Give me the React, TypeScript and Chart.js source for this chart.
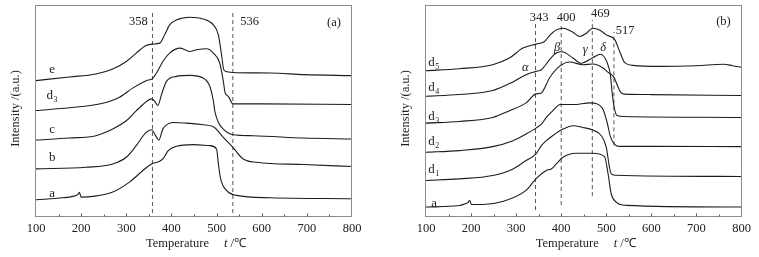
import React, { useEffect, useRef } from "react";
import { Chart, registerables } from "chart.js";
Chart.register(...registerables);

// ---------- Panel (a) data ----------
const aE_T = [100, 174, 233, 270, 300, 322, 344, 358, 374, 385, 396, 411, 441, 470, 493, 504, 511, 516, 526, 544, 619, 693, 800];
const aE_V = [136, 139.7, 142.7, 147.7, 155.3, 163.7, 171.3, 172.7, 173.7, 182, 192, 197, 199.7, 198, 192, 182, 162, 147, 144.7, 144, 143.7, 142, 141];

const aD3_T = [100, 174, 248, 285, 315, 344, 358, 367, 381, 396, 419, 430, 441, 456, 478, 493, 507, 515, 519, 526, 536, 600, 800];
const aD3_V = [106, 108.7, 113.3, 119.3, 128.7, 136, 138, 143.7, 155.3, 163.7, 168.7, 167, 165.3, 167, 168, 163.7, 153.7, 135.3, 123.7, 120.3, 112.7, 112.7, 112];

const aC_T = [100, 174, 233, 270, 300, 322, 337, 356, 363, 370, 378, 389, 411, 441, 470, 485, 493, 496, 504, 515, 536, 581, 693, 800];
const aC_V = [76.3, 78.3, 80.7, 87.3, 95.7, 105.7, 112, 117.7, 115.3, 111, 122, 135.3, 140.3, 141.3, 138.7, 130.3, 115.3, 105.7, 94, 87.3, 81.7, 80.7, 78.3, 77.3];

const aB_T = [100, 211, 270, 300, 322, 344, 356, 363, 372, 381, 404, 433, 470, 493, 515, 536, 559, 589, 693, 800];
const aB_V = [47.3, 49, 52.3, 59, 70.7, 84, 86.7, 82.3, 76.3, 87.3, 94, 93.3, 91.7, 89.7, 79, 69, 57.3, 54, 51.7, 49.7];

const aA_T = [100, 159, 181, 193, 196, 200, 226, 270, 307, 337, 356, 374, 381, 393, 411, 448, 485, 500, 504, 509, 522, 544, 619, 800];
const aA_V = [16.3, 18.3, 19.7, 21.7, 23.7, 19, 19.7, 24, 34, 45.7, 52.3, 55, 57.3, 65.7, 70, 71.7, 70.7, 67.3, 52.3, 37.3, 25.7, 20.7, 18.3, 17.3];

const aDashX = [358, 536];
const aDashLow = [3, 3];
const aDashHigh = [207, 207];

const aPeakText = ["358", "536", "(a)"];
const aPeakX = [327, 573, 760];
const aPeakY = [195, 195, 194];

const aCurveName = ["e", "d", "c", "b", "a"];
const aCurveSub = ["", "3", "", "", ""];
const aCurveLabX = [136, 136, 136, 136, 136];
const aCurveLabY = [147, 121, 86.5, 58.3, 23];

// ---------- Panel (b) data ----------
const bD5_T = [100, 174, 248, 285, 315, 344, 363, 374, 389, 404, 426, 441, 456, 470, 485, 500, 519, 530, 541, 559, 619, 700, 760, 780, 800];
const bD5_V = [146, 148, 152, 158.7, 168.7, 172.7, 175.3, 181.3, 187, 188.7, 184.7, 180.3, 183.7, 188.7, 187, 182, 177, 165, 154, 151.3, 150.3, 151, 152.5, 151, 149.3];

const bD4_T = [100, 174, 248, 293, 322, 344, 356, 374, 389, 402, 426, 444, 470, 487, 498, 505, 509, 513, 518, 524, 540, 800];
const bD4_V = [120.3, 122, 126, 134.7, 142, 145.3, 147, 157, 163.7, 165, 158.7, 153.5, 159, 162.5, 158, 150, 142, 124, 108, 101, 100, 99];

const bD3_T = [100, 174, 248, 285, 322, 344, 356, 374, 396, 419, 448, 470, 493, 502, 516, 531, 540, 600, 800];
const bD3_V = [93.3, 95, 99, 105.7, 113.7, 122.7, 123.7, 138.7, 150.3, 154.7, 152, 152.7, 148.7, 145, 140, 125, 122.5, 122, 121];

const bD2_T = [100, 174, 248, 293, 322, 344, 356, 367, 381, 398, 427, 464, 491, 502, 509, 519, 530, 600, 800];
const bD2_V = [64, 65.7, 69.7, 75.7, 82.3, 88.3, 92.3, 99, 105.7, 112, 112, 113.7, 108.7, 93.7, 80, 71.7, 70, 70, 69.7];

const bD1_T = [100, 174, 248, 293, 322, 344, 356, 367, 381, 404, 426, 448, 470, 489, 500, 507, 511, 520, 800];
const bD1_V = [35.7, 37.3, 40.7, 47.3, 55.7, 62.3, 70.7, 75.7, 80.7, 87.3, 90.7, 89, 86.3, 80.7, 69, 49, 42.3, 41, 39.7];

const bA_T = [100, 174, 185, 193, 197, 201, 226, 270, 322, 344, 367, 378, 389, 404, 433, 470, 496, 504, 511, 522, 544, 800];
const bA_V = [9, 10.5, 12, 13.5, 15.5, 11.5, 11.5, 14.5, 25.7, 37.3, 45.7, 47.3, 52.3, 59, 63, 63, 59.7, 42.3, 22.3, 14, 10.7, 9];

const bDashX = [343, 400, 469, 517];
const bDashLow = [6, 11, 20, 71];
const bDashHigh = [195, 194, 197, 185];

const bPeakText = ["343", "400", "469", "517", "(b)"];
const bPeakX = [351, 411, 487, 542, 760];
const bPeakY = [199, 199, 203.5, 186, 195];

const bGreekText = ["α", "β", "γ", "δ"];
const bGreekX = [320, 391, 453, 493];
const bGreekY = [149, 169, 167, 169];

const bCurveName = ["d", "d", "d", "d", "d", "a"];
const bCurveSub = ["5", "4", "3", "2", "1", ""];
const bCurveLabX = [118, 118, 118, 118, 118, 118];
const bCurveLabY = [154, 129, 99.5, 74.4, 46.2, 12];

const xTickMin = 100;
const xTickMax = 800;
const xTickStep = 50;

// ---------- helpers ----------
const SERIF = '"Liberation Serif", "Times New Roman", serif';
const INK = "#222";

type Pt = { x: number; y: number };
const pts = (t: number[], v: number[]): Pt[] => t.map((x, i) => ({ x, y: v[i] }));

function curveDs(t: number[], v: number[]) {
  return {
    data: pts(t, v),
    borderColor: "#1c1c1c",
    borderWidth: 1.1,
    pointRadius: 0,
    fill: false,
    cubicInterpolationMode: "monotone" as const,
  };
}
function dashDs(x: number, lo: number, hi: number) {
  return {
    data: [{ x, y: lo }, { x, y: hi }],
    borderColor: "#555",
    borderWidth: 1,
    borderDash: [4, 3],
    pointRadius: 0,
    fill: false,
  };
}

type PanelSpec = {
  curves: { t: number[]; v: number[] }[];
  dashX: number[];
  dashLow: number[];
  dashHigh: number[];
  peakText: string[];
  peakX: number[];
  peakY: number[];
  greekText: string[];
  greekX: number[];
  greekY: number[];
  curveName: string[];
  curveSub: string[];
  curveLabX: number[];
  curveLabY: number[];
  padding: { left: number; right: number; top: number; bottom: number };
};

function decorPlugin(spec: PanelSpec) {
  return {
    id: "decor",
    afterDraw(chart: any) {
      const ctx = chart.ctx as CanvasRenderingContext2D;
      const { left, right, top, bottom } = chart.chartArea;
      const xs = chart.scales.x;
      const ys = chart.scales.y;
      ctx.save();
      // frame
      ctx.strokeStyle = "#8c8c8c";
      ctx.lineWidth = 1;
      const L = Math.round(left) - 0.5;
      const R = Math.round(right) - 0.5;
      const T = Math.round(top) + 0.5;
      const B = Math.round(bottom) + 0.5;
      ctx.strokeRect(L, T, R - L, B - T);
      // inward ticks
      ctx.strokeStyle = "#555";
      for (const tk of xs.ticks) {
        const px = Math.round(xs.getPixelForValue(tk.value)) + 0.5;
        const major = tk.value % 100 === 0;
        if (tk.value === xTickMin || tk.value === xTickMax) continue;
        ctx.beginPath();
        ctx.moveTo(px, B);
        ctx.lineTo(px, B - (major ? 3 : 2));
        ctx.stroke();
      }
      ctx.fillStyle = INK;
      ctx.textBaseline = "middle";
      // x title
      const cx = (left + right) / 2;
      const ty = 244;
      ctx.font = `12.5px ${SERIF}`;
      ctx.textAlign = "right";
      ctx.fillText("Temperature", cx + 15, ty);
      ctx.textAlign = "left";
      ctx.font = `italic 12.5px ${SERIF}`;
      ctx.fillText("t", cx + 30, ty);
      const tw = ctx.measureText("t").width;
      ctx.font = `12.5px ${SERIF}`;
      ctx.fillText(" /℃", cx + 30 + tw, ty);
      // y title
      ctx.save();
      ctx.translate(left - 20, (top + bottom) / 2 - 2);
      ctx.rotate(-Math.PI / 2);
      ctx.textAlign = "center";
      ctx.font = `12.5px ${SERIF}`;
      ctx.fillText("Intensity /(a.u.)", 0, 0);
      ctx.restore();
      // peak number labels
      ctx.textAlign = "center";
      ctx.font = `12.5px ${SERIF}`;
      spec.peakText.forEach((s, i) => {
        ctx.fillText(s, xs.getPixelForValue(spec.peakX[i]), ys.getPixelForValue(spec.peakY[i]));
      });
      // greek labels
      ctx.font = `italic 12.5px ${SERIF}`;
      spec.greekText.forEach((s, i) => {
        ctx.fillText(s, xs.getPixelForValue(spec.greekX[i]), ys.getPixelForValue(spec.greekY[i]));
      });
      // curve labels
      spec.curveName.forEach((s, i) => {
        const px = xs.getPixelForValue(spec.curveLabX[i]);
        const py = ys.getPixelForValue(spec.curveLabY[i]);
        ctx.font = `13px ${SERIF}`;
        ctx.textAlign = "left";
        const w = ctx.measureText(s).width;
        const sub = spec.curveSub[i];
        const subW = sub ? 5 : 0;
        const x0 = px - (w + subW) / 2;
        ctx.fillText(s, x0, py);
        if (sub) {
          ctx.font = `8px ${SERIF}`;
          ctx.fillText(sub, x0 + w + 0.5, py + 4);
        }
      });
      ctx.restore();
    },
  };
}

function makeConfig(spec: PanelSpec): any {
  const datasets: any[] = [];
  spec.curves.forEach((c) => datasets.push(curveDs(c.t, c.v)));
  spec.dashX.forEach((x, i) => datasets.push(dashDs(x, spec.dashLow[i], spec.dashHigh[i])));
  return {
    type: "line",
    data: { datasets },
    options: {
      responsive: false,
      animation: false,
      devicePixelRatio: 1,
      layout: { padding: spec.padding },
      plugins: { legend: { display: false }, tooltip: { enabled: false } },
      scales: {
        x: {
          type: "linear",
          min: xTickMin,
          max: xTickMax,
          grid: { display: false, drawTicks: false },
          border: { display: false },
          ticks: {
            stepSize: xTickStep,
            autoSkip: false,
            maxRotation: 0,
            padding: 5,
            color: INK,
            font: { family: SERIF, size: 12.5 },
            callback: (v: number) => (v % 100 === 0 ? String(v) : ""),
          },
          afterFit: (s: any) => {
            s.height = 40;
          },
        },
        y: { type: "linear", min: 0, max: 212, display: false },
      },
    },
    plugins: [decorPlugin(spec)],
  };
}

const specA: PanelSpec = {
  curves: [
    { t: aE_T, v: aE_V },
    { t: aD3_T, v: aD3_V },
    { t: aC_T, v: aC_V },
    { t: aB_T, v: aB_V },
    { t: aA_T, v: aA_V },
  ],
  dashX: aDashX,
  dashLow: aDashLow,
  dashHigh: aDashHigh,
  peakText: aPeakText,
  peakX: aPeakX,
  peakY: aPeakY,
  greekText: [],
  greekX: [],
  greekY: [],
  curveName: aCurveName,
  curveSub: aCurveSub,
  curveLabX: aCurveLabX,
  curveLabY: aCurveLabY,
  padding: { left: 36, right: 28, top: 5, bottom: 1 },
};

const specB: PanelSpec = {
  curves: [
    { t: bD5_T, v: bD5_V },
    { t: bD4_T, v: bD4_V },
    { t: bD3_T, v: bD3_V },
    { t: bD2_T, v: bD2_V },
    { t: bD1_T, v: bD1_V },
    { t: bA_T, v: bA_V },
  ],
  dashX: bDashX,
  dashLow: bDashLow,
  dashHigh: bDashHigh,
  peakText: bPeakText,
  peakX: bPeakX,
  peakY: bPeakY,
  greekText: bGreekText,
  greekX: bGreekX,
  greekY: bGreekY,
  curveName: bCurveName,
  curveSub: bCurveSub,
  curveLabX: bCurveLabX,
  curveLabY: bCurveLabY,
  padding: { left: 46, right: 17.5, top: 5, bottom: 1 },
};

function Panel({ spec, left, width }: { spec: PanelSpec; left: number; width: number }) {
  const ref = useRef<HTMLCanvasElement | null>(null);
  useEffect(() => {
    if (!ref.current) return;
    const chart = new Chart(ref.current, makeConfig(spec));
    return () => chart.destroy();
  }, [spec]);
  return (
    <canvas
      ref={ref}
      width={width}
      height={257}
      style={{ position: "absolute", left, top: 0, width, height: 257, display: "block" }}
    />
  );
}

export default function App() {
  return (
    <div style={{ position: "fixed", left: 0, top: 0, width: 759, height: 257, background: "#fff", overflow: "hidden" }}>
      <Panel spec={specA} left={0} width={380} />
      <Panel spec={specB} left={380} width={379} />
    </div>
  );
}
